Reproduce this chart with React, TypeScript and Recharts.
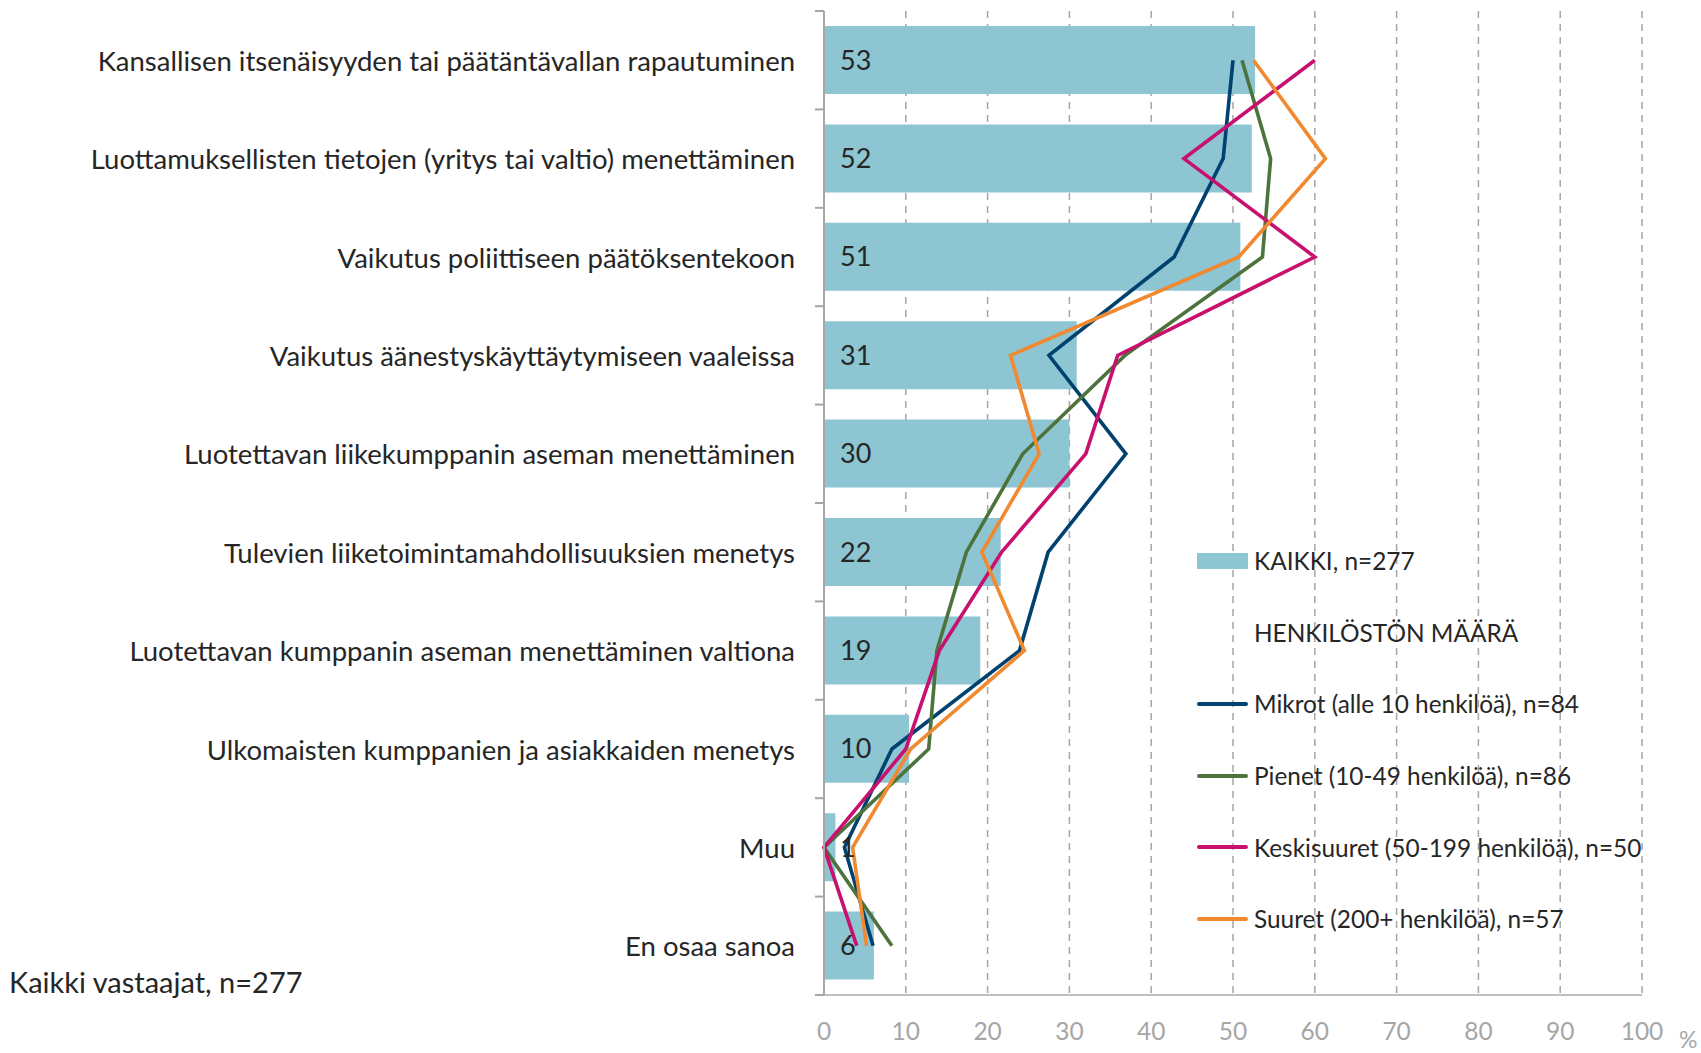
import React from 'react';
import {
  ComposedChart,
  Bar,
  Line,
  XAxis,
  YAxis,
  CartesianGrid,
  Legend,
  LabelList,
} from 'recharts';

const categories = [
  'Kansallisen itsenäisyyden tai päätäntävallan rapautuminen',
  'Luottamuksellisten tietojen (yritys tai valtio) menettäminen',
  'Vaikutus poliittiseen päätöksentekoon',
  'Vaikutus äänestyskäyttäytymiseen vaaleissa',
  'Luotettavan liikekumppanin aseman menettäminen',
  'Tulevien liiketoimintamahdollisuuksien menetys',
  'Luotettavan kumppanin aseman menettäminen valtiona',
  'Ulkomaisten kumppanien ja asiakkaiden menetys',
  'Muu',
  'En osaa sanoa',
];

// KAIKKI, n=277
const kaikki = [52.7, 52.3, 50.9, 30.9, 30.0, 21.6, 19.1, 10.4, 1.4, 6.1];
// henkilöstön määrä
const mikrot = [50.0, 48.8, 42.8, 27.5, 36.9, 27.4, 23.9, 8.3, 2.5, 6.0];
const pienet = [51.1, 54.6, 53.6, 36.8, 24.3, 17.4, 13.8, 12.8, 0, 8.3];
const keskisuuret = [60.0, 44.0, 60.0, 35.9, 32.0, 21.7, 14.1, 10.0, 0, 4.0];
const suuret = [52.5, 61.3, 50.7, 22.8, 26.3, 19.3, 24.5, 10.6, 3.5, 5.2];

const xTicks = [0, 10, 20, 30, 40, 50, 60, 70, 80, 90, 100];

const lineSeries = [
  { key: 'mikrot', name: 'Mikrot (alle 10 henkilöä), n=84', color: '#00426f' },
  { key: 'pienet', name: 'Pienet (10-49 henkilöä), n=86', color: '#4d733d' },
  { key: 'keskisuuret', name: 'Keskisuuret (50-199 henkilöä), n=50', color: '#c8106f' },
  { key: 'suuret', name: 'Suuret (200+ henkilöä), n=57', color: '#f0892f' },
];

const data = categories.map((name, i) => ({
  name,
  kaikki: kaikki[i],
  mikrot: mikrot[i],
  pienet: pienet[i],
  keskisuuret: keskisuuret[i],
  suuret: suuret[i],
}));

const FONT = "Lato, 'Open Sans', sans-serif";
const TEXT = '#262626';
const GRAY = '#a6a6a6';
const LABEL_GAP = 29;
const TICK_LEN = 9;

// category label + Excel-style tick marks between the categories
const CategoryTick = (props: any) => {
  const { x, y, payload, index, visibleTicksCount } = props;
  const half = payload && typeof payload.offset === 'number' ? payload.offset : 0;
  const axisX = x + LABEL_GAP;
  const isLast = index === visibleTicksCount - 1;
  return (
    <g>
      {half > 0 && (
        <line x1={axisX - TICK_LEN} x2={axisX} y1={y - half} y2={y - half} stroke={GRAY} strokeWidth={2} />
      )}
      {half > 0 && isLast && (
        <line x1={axisX - TICK_LEN} x2={axisX} y1={y + half} y2={y + half} stroke={GRAY} strokeWidth={2} />
      )}
      <text x={x} y={y} textAnchor="end" dominantBaseline="central" fill={TEXT} fontSize={27.5} fontFamily={FONT}>
        {payload.value}
      </text>
    </g>
  );
};

const ValueTick = (props: any) => {
  const { x, y, payload } = props;
  return (
    <text x={x} y={y + 27} textAnchor="middle" dominantBaseline="central" fill={GRAY} fontSize={24.5} fontFamily={FONT}>
      {payload.value}
    </text>
  );
};

const renderLegend = () => {
  const row = { display: 'flex', alignItems: 'center', height: 71.6 } as React.CSSProperties;
  const label = { marginLeft: 6, fontSize: 24.4, color: TEXT, fontFamily: FONT, whiteSpace: 'nowrap' } as React.CSSProperties;
  return (
    <div>
      <div style={row}>
        <div style={{ width: 51, height: 16, background: '#8dc5d3' }} />
        <span style={label}>KAIKKI, n=277</span>
      </div>
      <div style={row}>
        <div style={{ width: 51 }} />
        <span style={label}>HENKILÖSTÖN MÄÄRÄ</span>
      </div>
      {lineSeries.map((s) => (
        <div key={s.key} style={row}>
          <div style={{ width: 51, height: 4, borderRadius: 2, background: s.color }} />
          <span style={label}>{s.name}</span>
        </div>
      ))}
    </div>
  );
};

export default function App() {
  return (
    <div style={{ position: 'absolute', left: 0, top: 0, width: 1701, height: 1053, background: '#fff' }}>
      <ComposedChart
        width={1701}
        height={1053}
        data={data}
        layout="vertical"
        margin={{ top: 11, right: 59, bottom: 18, left: 0 }}
      >
        <CartesianGrid horizontal={false} stroke={GRAY} strokeWidth={1.5} strokeDasharray="7 6" />
        <XAxis
          type="number"
          domain={[0, 100]}
          ticks={xTicks}
          interval={0}
          height={40}
          axisLine={{ stroke: '#bfbfbf', strokeWidth: 2 }}
          tickLine={false}
          tick={<ValueTick />}
        />
        <YAxis
          type="category"
          dataKey="name"
          width={824}
          interval={0}
          axisLine={{ stroke: GRAY, strokeWidth: 2 }}
          tickLine={false}
          tickSize={0}
          tickMargin={LABEL_GAP}
          tick={<CategoryTick />}
        />
        <Bar dataKey="kaikki" name="KAIKKI, n=277" fill="#8dc5d3" barSize={68} isAnimationActive={false}>
          <LabelList
            dataKey="kaikki"
            position="insideLeft"
            offset={16}
            formatter={(v: any) => Math.round(Number(v))}
            fill={TEXT}
            fontSize={27}
            fontFamily={FONT}
          />
        </Bar>
        {lineSeries.map((s) => (
          <Line
            key={s.key}
            dataKey={s.key}
            name={s.name}
            stroke={s.color}
            strokeWidth={3.6}
            dot={false}
            activeDot={false}
            isAnimationActive={false}
          />
        ))}
        <Legend
          layout="horizontal"
          verticalAlign="middle"
          align="center"
          content={renderLegend}
          wrapperStyle={{ left: 1197, top: 525, width: 480, height: 430 }}
        />
      </ComposedChart>
      <div style={{ position: 'absolute', left: 9, top: 964, fontSize: 29, color: TEXT, fontFamily: FONT, whiteSpace: 'nowrap' }}>
        Kaikki vastaajat, n=277
      </div>
      <div style={{ position: 'absolute', left: 1679, top: 1025, fontSize: 23, color: GRAY, fontFamily: FONT }}>%</div>
    </div>
  );
}
